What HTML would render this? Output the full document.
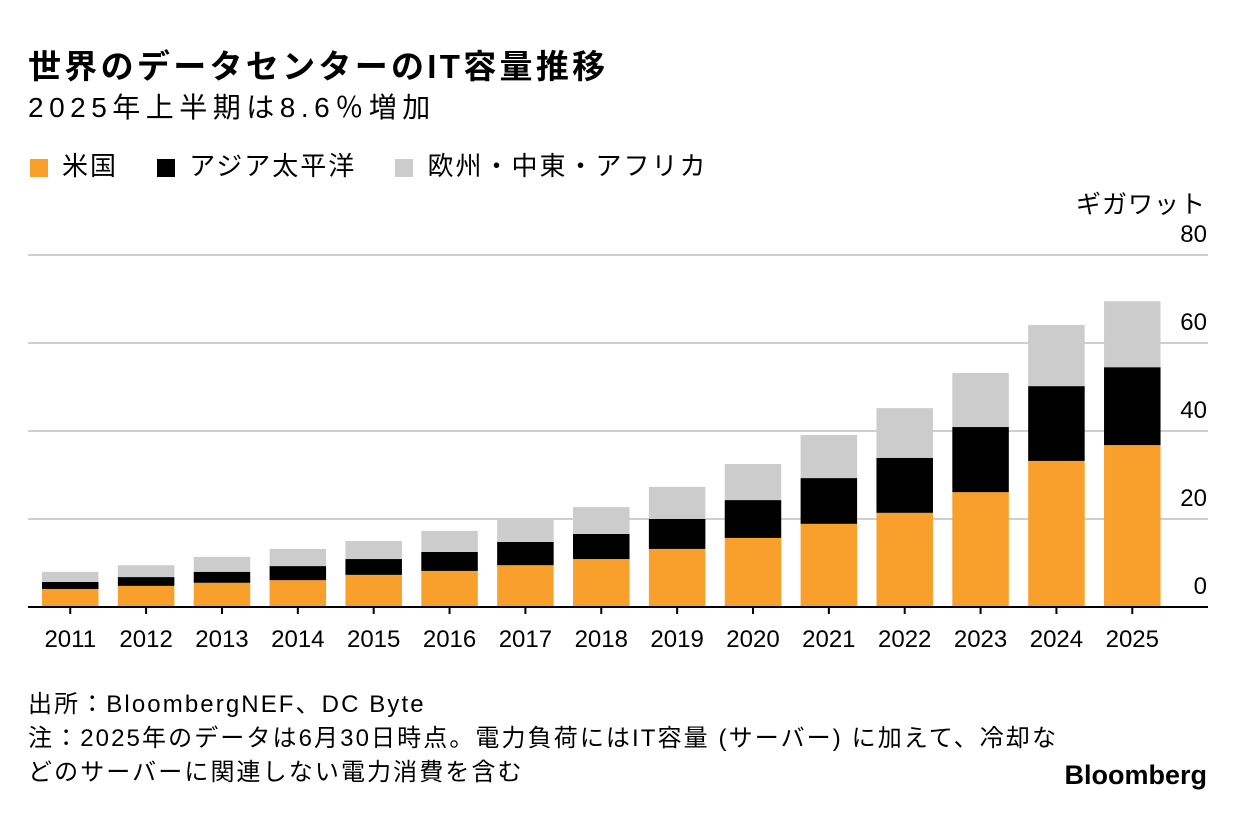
<!DOCTYPE html>
<html><head><meta charset="utf-8">
<style>
body{margin:0;background:#fff;width:1236px;height:820px;overflow:hidden;font-family:"Liberation Sans","Noto Sans CJK JP",sans-serif;color:#000;position:relative}
.abs{position:absolute;white-space:nowrap}
.sw{display:inline-block;width:18px;height:18px;vertical-align:-2px;margin-right:14px}
</style></head><body>
<div class="abs" style="left:28px;top:40px;font-size:33px;font-weight:bold;letter-spacing:3.3px">世界のデータセンターのIT容量推移</div>
<div class="abs" style="left:28px;top:86px;font-size:28px;letter-spacing:5.5px">2025年上半期は8.6％増加</div>
<div class="abs" style="left:30px;top:146px;font-size:26px;letter-spacing:2px">
<span><span class="sw" style="background:#f9a02c"></span>米国</span>
<span style="margin-left:30px"><span class="sw" style="background:#000"></span>アジア太平洋</span>
<span style="margin-left:30px"><span class="sw" style="background:#cccccc"></span>欧州・中東・アフリカ</span>
</div>
<div class="abs" style="right:30px;top:185px;font-size:25px;letter-spacing:1px">ギガワット</div>
<svg id="chart" width="1236" height="820" style="position:absolute;left:0;top:0"></svg>
<div class="abs" style="left:28px;top:688px;font-size:24px;line-height:34px;letter-spacing:2.1px">出所：BloombergNEF、DC Byte<br>注：2025年のデータは6月30日時点。電力負荷にはIT容量 (サーバー) に加えて、冷却な<br>どのサーバーに関連しない電力消費を含む</div>
<div class="abs" style="right:29px;top:760px;font-size:27px;font-weight:bold">Bloomberg</div>
<script>
const years=["2011","2012","2013","2014","2015","2016","2017","2018","2019","2020","2021","2022","2023","2024","2025"];
const us=[4.1,4.8,5.5,6.1,7.3,8.2,9.5,10.9,13.2,15.7,18.9,21.4,26.1,33.2,36.8];
const apac=[1.6,2.0,2.5,3.2,3.6,4.3,5.3,5.7,6.8,8.6,10.4,12.5,14.8,17.0,17.7];
const emea=[2.3,2.7,3.4,3.9,4.1,4.8,5.2,6.1,7.3,8.2,9.8,11.3,12.3,13.9,15.0];
const ticks=[0,20,40,60,80];
const svg=document.getElementById('chart');const NS='http://www.w3.org/2000/svg';
const y=v=>607-v*4.4;
const xL=i=>42+i*75.86;const bw=56.5;
function mk(t,a){const e=document.createElementNS(NS,t);for(const k in a)e.setAttribute(k,a[k]);svg.appendChild(e);return e;}
ticks.forEach(t=>{if(t>0){const l=mk('line',{x1:28,x2:1208,y1:y(t),y2:y(t),stroke:'#cfcfcf','stroke-width':2});

}
const tx=mk('text',{x:1207,y:y(t)-13,'text-anchor':'end','font-size':24,'font-family':'Liberation Sans, sans-serif'});tx.textContent=t;

});
years.forEach((yr,i)=>{const x=xL(i);let base=0;
[[us,'#f9a02c','bar-us'],[apac,'#000','bar-apac'],[emea,'#cccccc','bar-emea']].forEach(([s,c,n])=>{
const r=mk('rect',{x:x,y:y(base+s[i]),width:bw,height:s[i]*4.4,fill:c});

base+=s[i];});
const tk=mk('line',{x1:x+bw/2,x2:x+bw/2,y1:607,y2:614,stroke:'#000','stroke-width':2});


const t=mk('text',{x:x+bw/2,y:647,'text-anchor':'middle','font-size':24,'font-family':'Liberation Sans, sans-serif'});t.textContent=yr;

});
const b=mk('line',{x1:28,x2:1208,y1:607,y2:607,stroke:'#000','stroke-width':2});


</script>
</body></html>
